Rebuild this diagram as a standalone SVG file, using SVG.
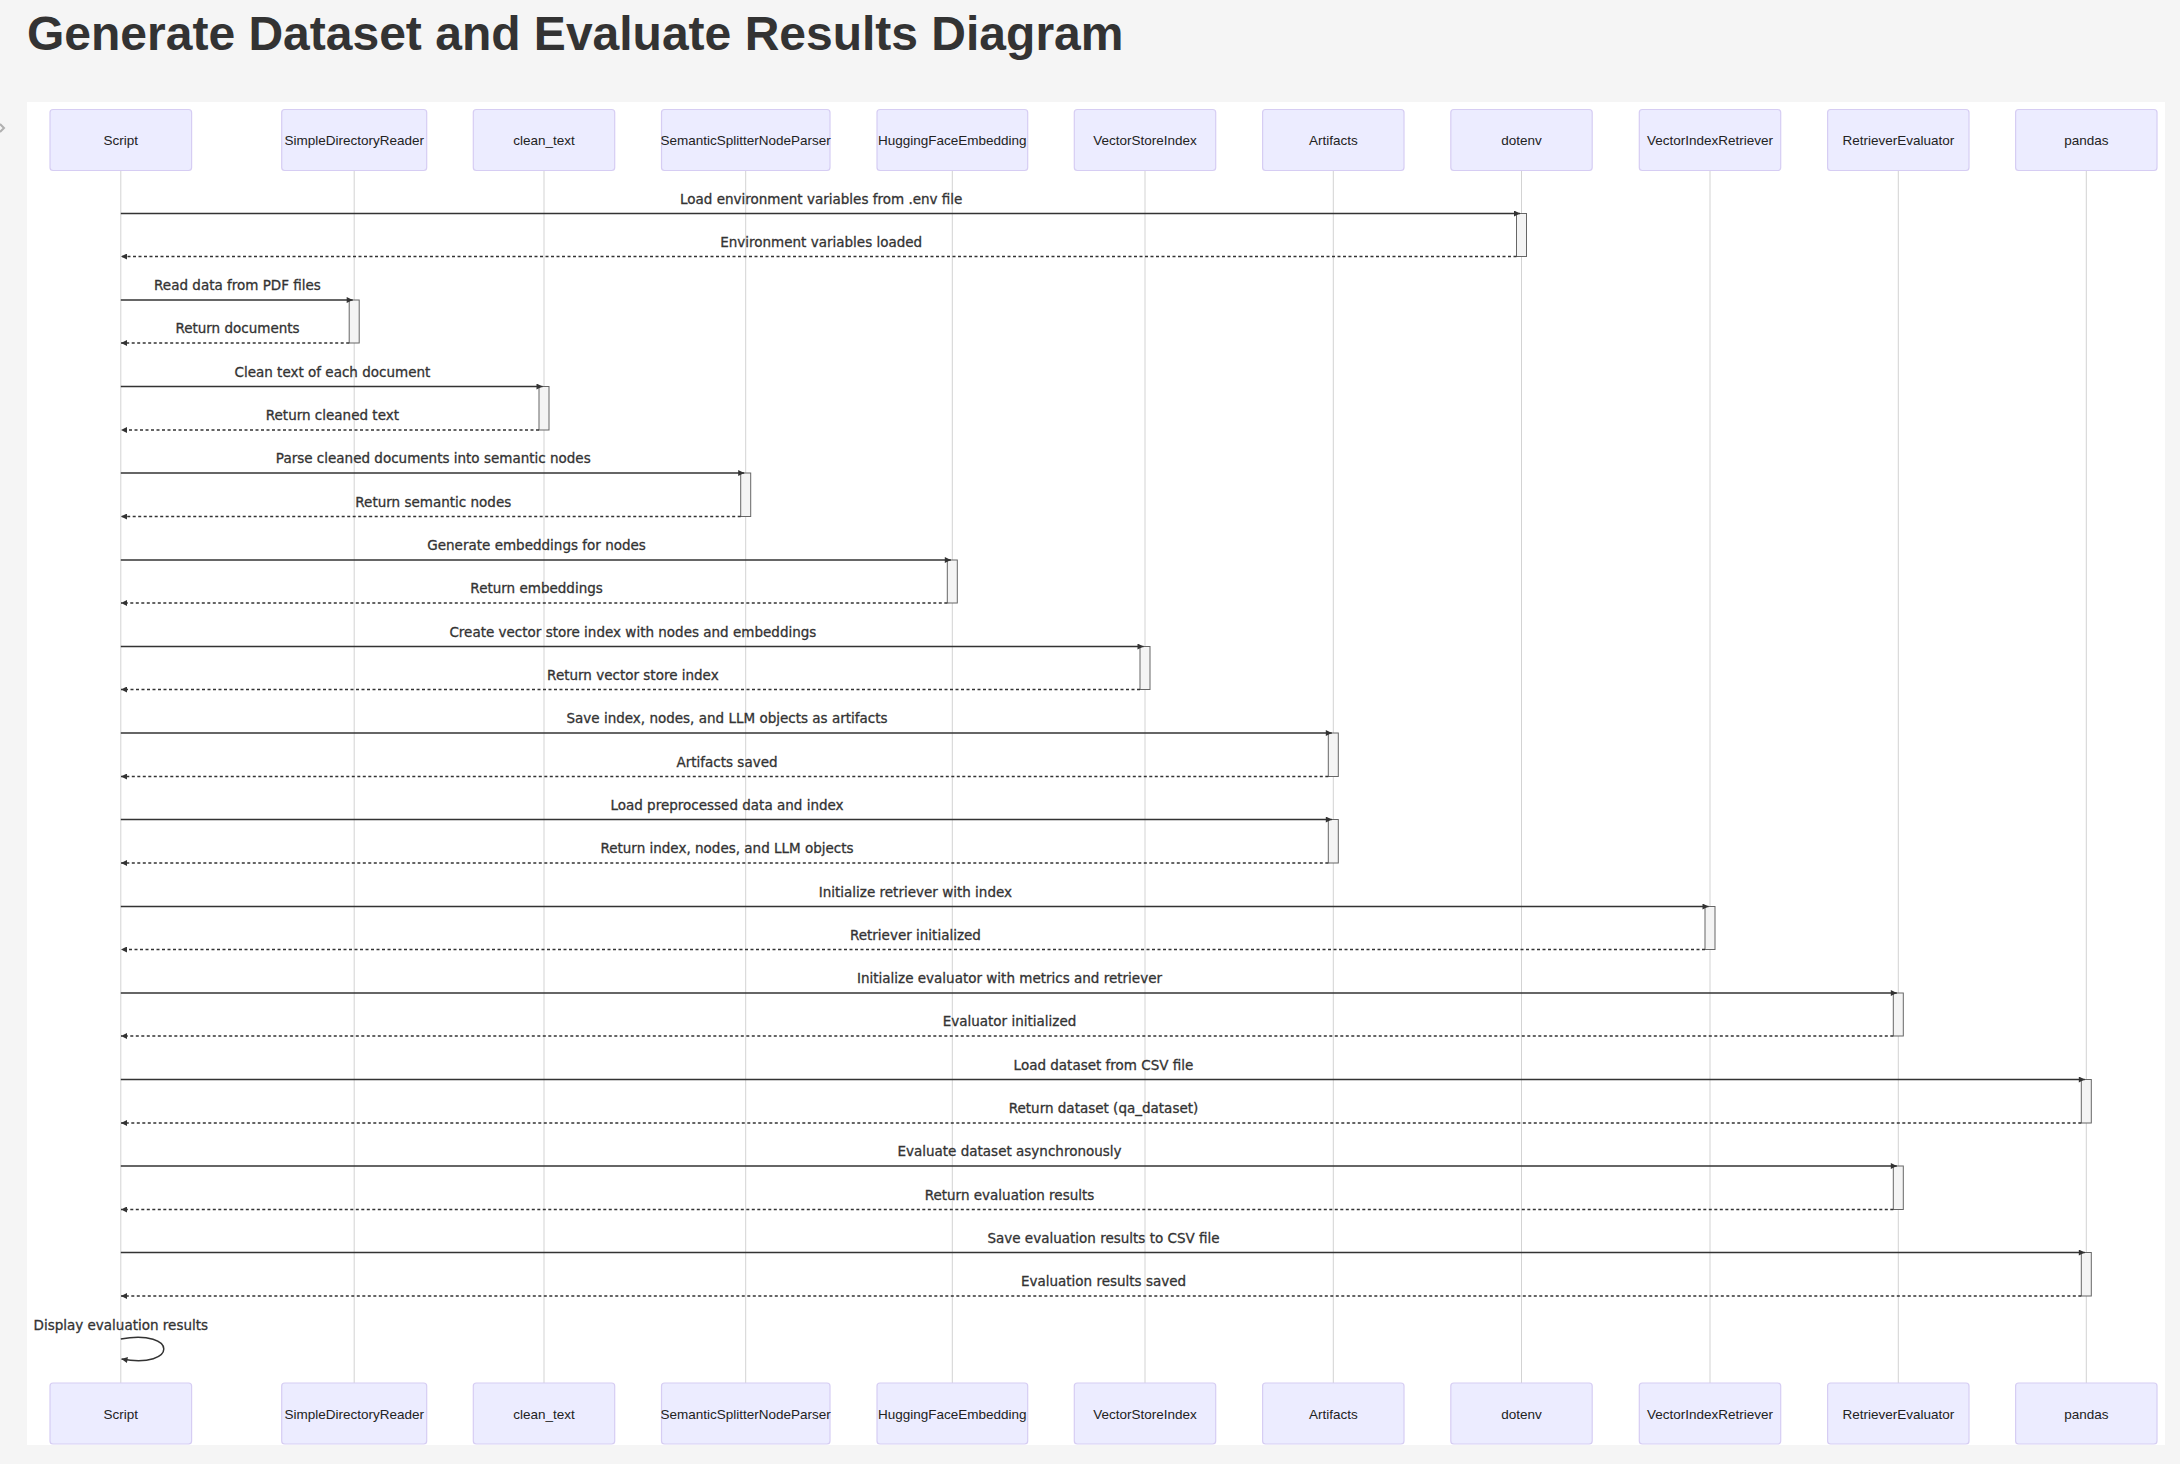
<svg xmlns="http://www.w3.org/2000/svg" width="2180" height="1464" viewBox="0 0 2180 1464">
<style>
.title{font-family:"Liberation Sans",Arial,sans-serif;font-size:48px;font-weight:bold;fill:#333}
.actor rect{fill:#ececff;stroke:#d6cdf3;stroke-width:1.2}
.actor text{font-family:"Liberation Sans",Arial,sans-serif;font-size:13.5px;fill:#222;text-anchor:middle}
.life{stroke:#d3d3d3;stroke-width:1}
.act{fill:#f4f4f4;stroke:#666;stroke-width:1}
.msg{stroke:#333;stroke-width:1.5;fill:none;marker-end:url(#ah)}
.ret{stroke:#333;stroke-width:1.5;fill:none;stroke-dasharray:3,2.5;marker-end:url(#ah)}
.lbl{font-family:"DejaVu Sans",Verdana,sans-serif;font-size:13.5px;fill:#333;stroke:#333;stroke-width:0.3;text-anchor:middle}
</style>
<defs>
<marker id="ah" viewBox="0 0 10 10" refX="10" refY="5" markerUnits="userSpaceOnUse" markerWidth="8" markerHeight="6" orient="auto">
<path d="M0,0 L10,5 L0,10 z" fill="#333"/>
</marker>
</defs>
<rect x="0" y="0" width="2180" height="1464" fill="#f5f5f5"/>
<polyline points="0,124 4,128 0,132" fill="none" stroke="#b0b0b0" stroke-width="2"/>
<text class="title" x="27" y="50">Generate Dataset and Evaluate Results Diagram</text>
<rect x="27" y="102" width="2138" height="1343" fill="#ffffff"/>

<g id="lifelines">
<line class="life" x1="120.8" y1="171" x2="120.8" y2="1383"/>
<line class="life" x1="354.2" y1="171" x2="354.2" y2="1383"/>
<line class="life" x1="544" y1="171" x2="544" y2="1383"/>
<line class="life" x1="745.7" y1="171" x2="745.7" y2="1383"/>
<line class="life" x1="952.3" y1="171" x2="952.3" y2="1383"/>
<line class="life" x1="1145" y1="171" x2="1145" y2="1383"/>
<line class="life" x1="1333.3" y1="171" x2="1333.3" y2="1383"/>
<line class="life" x1="1521.5" y1="171" x2="1521.5" y2="1383"/>
<line class="life" x1="1710" y1="171" x2="1710" y2="1383"/>
<line class="life" x1="1898.3" y1="171" x2="1898.3" y2="1383"/>
<line class="life" x1="2086.3" y1="171" x2="2086.3" y2="1383"/>
</g>

<g id="activations">
<rect class="act" x="1516.5" y="213.5" width="10" height="43"/>
<rect class="act" x="349.2" y="300" width="10" height="43"/>
<rect class="act" x="539" y="386.5" width="10" height="43.5"/>
<rect class="act" x="740.7" y="473" width="10" height="43.5"/>
<rect class="act" x="947.3" y="560" width="10" height="43"/>
<rect class="act" x="1140" y="646.5" width="10" height="43"/>
<rect class="act" x="1328.3" y="733" width="10" height="43.5"/>
<rect class="act" x="1328.3" y="819.5" width="10" height="43.5"/>
<rect class="act" x="1705" y="906.5" width="10" height="43"/>
<rect class="act" x="1893.3" y="993" width="10" height="43"/>
<rect class="act" x="2081.3" y="1079.5" width="10" height="43.5"/>
<rect class="act" x="1893.3" y="1166" width="10" height="43.5"/>
<rect class="act" x="2081.3" y="1252.5" width="10" height="43.5"/>
</g>

<g id="connectors">
<line class="msg" x1="120.8" y1="213.5" x2="1520" y2="213.5"/>
<text class="lbl" x="821.2" y="203.5">Load environment variables from .env file</text>
<line class="ret" x1="1516.5" y1="256.5" x2="121" y2="256.5"/>
<text class="lbl" x="821.2" y="246.5">Environment variables loaded</text>

<line class="msg" x1="120.8" y1="300" x2="352.7" y2="300"/>
<text class="lbl" x="237.5" y="290">Read data from PDF files</text>
<line class="ret" x1="349.2" y1="343" x2="121" y2="343"/>
<text class="lbl" x="237.5" y="333">Return documents</text>

<line class="msg" x1="120.8" y1="386.5" x2="542.5" y2="386.5"/>
<text class="lbl" x="332.4" y="376.5">Clean text of each document</text>
<line class="ret" x1="539" y1="430" x2="121" y2="430"/>
<text class="lbl" x="332.4" y="420">Return cleaned text</text>

<line class="msg" x1="120.8" y1="473" x2="744.2" y2="473"/>
<text class="lbl" x="433.3" y="463">Parse cleaned documents into semantic nodes</text>
<line class="ret" x1="740.7" y1="516.5" x2="121" y2="516.5"/>
<text class="lbl" x="433.3" y="506.5">Return semantic nodes</text>

<line class="msg" x1="120.8" y1="560" x2="950.8" y2="560"/>
<text class="lbl" x="536.6" y="550">Generate embeddings for nodes</text>
<line class="ret" x1="947.3" y1="603" x2="121" y2="603"/>
<text class="lbl" x="536.6" y="593">Return embeddings</text>

<line class="msg" x1="120.8" y1="646.5" x2="1143.5" y2="646.5"/>
<text class="lbl" x="632.9" y="636.5">Create vector store index with nodes and embeddings</text>
<line class="ret" x1="1140" y1="689.5" x2="121" y2="689.5"/>
<text class="lbl" x="632.9" y="679.5">Return vector store index</text>

<line class="msg" x1="120.8" y1="733" x2="1331.8" y2="733"/>
<text class="lbl" x="727" y="723">Save index, nodes, and LLM objects as artifacts</text>
<line class="ret" x1="1328.3" y1="776.5" x2="121" y2="776.5"/>
<text class="lbl" x="727" y="766.5">Artifacts saved</text>

<line class="msg" x1="120.8" y1="819.5" x2="1331.8" y2="819.5"/>
<text class="lbl" x="727" y="809.5">Load preprocessed data and index</text>
<line class="ret" x1="1328.3" y1="863" x2="121" y2="863"/>
<text class="lbl" x="727" y="853">Return index, nodes, and LLM objects</text>

<line class="msg" x1="120.8" y1="906.5" x2="1708.5" y2="906.5"/>
<text class="lbl" x="915.4" y="896.5">Initialize retriever with index</text>
<line class="ret" x1="1705" y1="949.5" x2="121" y2="949.5"/>
<text class="lbl" x="915.4" y="939.5">Retriever initialized</text>

<line class="msg" x1="120.8" y1="993" x2="1896.8" y2="993"/>
<text class="lbl" x="1009.5" y="983">Initialize evaluator with metrics and retriever</text>
<line class="ret" x1="1893.3" y1="1036" x2="121" y2="1036"/>
<text class="lbl" x="1009.5" y="1026">Evaluator initialized</text>

<line class="msg" x1="120.8" y1="1079.5" x2="2084.8" y2="1079.5"/>
<text class="lbl" x="1103.5" y="1069.5">Load dataset from CSV file</text>
<line class="ret" x1="2081.3" y1="1123" x2="121" y2="1123"/>
<text class="lbl" x="1103.5" y="1113">Return dataset (qa_dataset)</text>

<line class="msg" x1="120.8" y1="1166" x2="1896.8" y2="1166"/>
<text class="lbl" x="1009.5" y="1156">Evaluate dataset asynchronously</text>
<line class="ret" x1="1893.3" y1="1209.5" x2="121" y2="1209.5"/>
<text class="lbl" x="1009.5" y="1199.5">Return evaluation results</text>

<line class="msg" x1="120.8" y1="1252.5" x2="2084.8" y2="1252.5"/>
<text class="lbl" x="1103.5" y="1242.5">Save evaluation results to CSV file</text>
<line class="ret" x1="2081.3" y1="1296" x2="121" y2="1296"/>
<text class="lbl" x="1103.5" y="1286">Evaluation results saved</text>

<text class="lbl" x="120.8" y="1330">Display evaluation results</text>
<path class="msg" d="M120.8,1339 C178,1329 178,1369 121.5,1359"/>
</g>

<g id="actor-Script" class="actor"><rect x="50" y="109.5" width="141.6" height="61" rx="3"/><text x="120.8" y="145">Script</text><rect x="50" y="1383" width="141.6" height="61" rx="3"/><text x="120.8" y="1418.5">Script</text></g>
<g id="actor-SimpleDirectoryReader" class="actor"><rect x="281.7" y="109.5" width="145" height="61" rx="3"/><text x="354.2" y="145">SimpleDirectoryReader</text><rect x="281.7" y="1383" width="145" height="61" rx="3"/><text x="354.2" y="1418.5">SimpleDirectoryReader</text></g>
<g id="actor-clean_text" class="actor"><rect x="473.3" y="109.5" width="141.4" height="61" rx="3"/><text x="544" y="145">clean_text</text><rect x="473.3" y="1383" width="141.4" height="61" rx="3"/><text x="544" y="1418.5">clean_text</text></g>
<g id="actor-SemanticSplitterNodeParser" class="actor"><rect x="661.5" y="109.5" width="168.5" height="61" rx="3"/><text x="745.7" y="145">SemanticSplitterNodeParser</text><rect x="661.5" y="1383" width="168.5" height="61" rx="3"/><text x="745.7" y="1418.5">SemanticSplitterNodeParser</text></g>
<g id="actor-HuggingFaceEmbedding" class="actor"><rect x="877" y="109.5" width="150.7" height="61" rx="3"/><text x="952.3" y="145">HuggingFaceEmbedding</text><rect x="877" y="1383" width="150.7" height="61" rx="3"/><text x="952.3" y="1418.5">HuggingFaceEmbedding</text></g>
<g id="actor-VectorStoreIndex" class="actor"><rect x="1074.3" y="109.5" width="141.4" height="61" rx="3"/><text x="1145" y="145">VectorStoreIndex</text><rect x="1074.3" y="1383" width="141.4" height="61" rx="3"/><text x="1145" y="1418.5">VectorStoreIndex</text></g>
<g id="actor-Artifacts" class="actor"><rect x="1262.6" y="109.5" width="141.4" height="61" rx="3"/><text x="1333.3" y="145">Artifacts</text><rect x="1262.6" y="1383" width="141.4" height="61" rx="3"/><text x="1333.3" y="1418.5">Artifacts</text></g>
<g id="actor-dotenv" class="actor"><rect x="1450.8" y="109.5" width="141.4" height="61" rx="3"/><text x="1521.5" y="145">dotenv</text><rect x="1450.8" y="1383" width="141.4" height="61" rx="3"/><text x="1521.5" y="1418.5">dotenv</text></g>
<g id="actor-VectorIndexRetriever" class="actor"><rect x="1639.3" y="109.5" width="141.4" height="61" rx="3"/><text x="1710" y="145">VectorIndexRetriever</text><rect x="1639.3" y="1383" width="141.4" height="61" rx="3"/><text x="1710" y="1418.5">VectorIndexRetriever</text></g>
<g id="actor-RetrieverEvaluator" class="actor"><rect x="1827.6" y="109.5" width="141.4" height="61" rx="3"/><text x="1898.3" y="145">RetrieverEvaluator</text><rect x="1827.6" y="1383" width="141.4" height="61" rx="3"/><text x="1898.3" y="1418.5">RetrieverEvaluator</text></g>
<g id="actor-pandas" class="actor"><rect x="2015.6" y="109.5" width="141.4" height="61" rx="3"/><text x="2086.3" y="145">pandas</text><rect x="2015.6" y="1383" width="141.4" height="61" rx="3"/><text x="2086.3" y="1418.5">pandas</text></g>
</svg>
